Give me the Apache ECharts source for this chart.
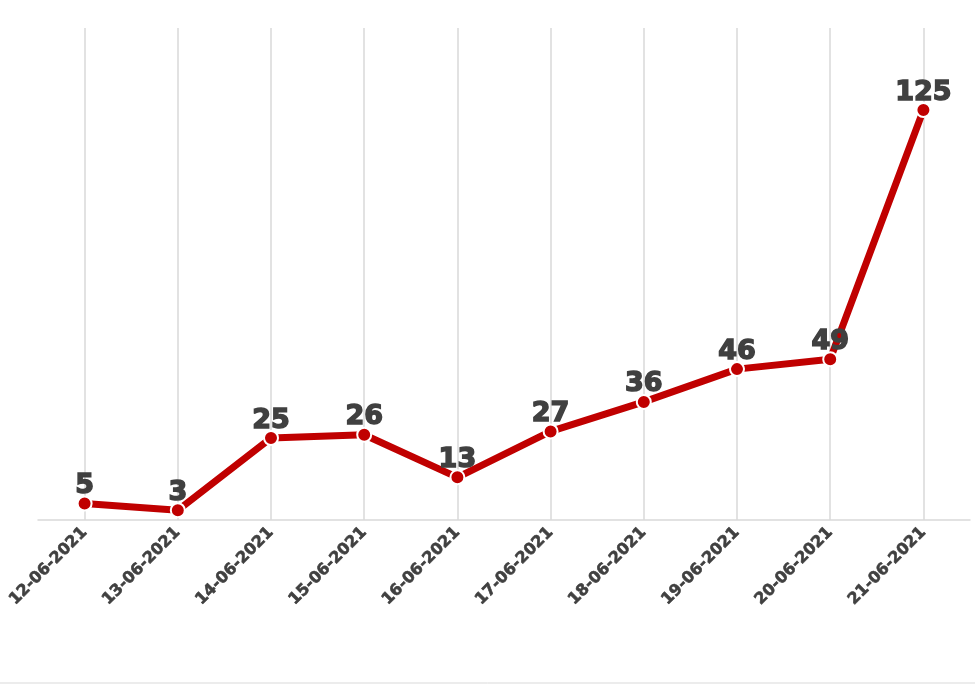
<!DOCTYPE html>
<html><head><meta charset="utf-8">
<script src="https://cdn.jsdelivr.net/npm/echarts@6/dist/echarts.min.js"></script>
<style>html,body{margin:0;background:#fff}#c{width:975px;height:687px}</style>
</head><body><div id="c"></div>
<script>
const dates = ['12-06-2021','13-06-2021','14-06-2021','15-06-2021','16-06-2021','17-06-2021','18-06-2021','19-06-2021','20-06-2021','21-06-2021'];
const cases = [5, 3, 25, 26, 13, 27, 36, 46, 49, 125];

const chart = echarts.init(document.getElementById('c'));
chart.setOption({
  animation: false,
  grid: { left: 38, right: 5, top: 28, bottom: 167 },
  xAxis: {
    type: 'category', data: dates, boundaryGap: true,
    axisLine: { lineStyle: { color: '#d9d9d9', width: 1.5 } },
    axisTick: { show: false },
    axisLabel: { rotate: 45, color: '#404040', fontWeight: 'bold', fontSize: 16, fontFamily: 'DejaVu Sans', margin: 10,
      textBorderColor: '#404040', textBorderWidth: 0.6 }
  },
  yAxis: { type: 'value', min: 0, max: 150, show: false, splitLine: { show: false } },
  series: [{
    type: 'line', data: cases,
    lineStyle: { color: '#c00000', width: 7 },
    itemStyle: { color: '#c00000', borderColor: '#fff', borderWidth: 2 },
    symbol: 'circle', symbolSize: 14,
    label: { show: true, position: 'top', distance: -4, color: '#404040', fontWeight: 'bold', fontSize: 27, fontFamily: 'DejaVu Sans',
      textBorderColor: '#404040', textBorderWidth: 1.5 },
    markLine: {
      silent: true, symbol: 'none', label: { show: false },
      lineStyle: { color: '#d9d9d9', type: 'solid', width: 1.5 },
      data: dates.map(d => ({ xAxis: d })),
      z: 0
    },
    z: 3
  }],
  graphic: [{ type: 'line', shape: { x1: 0, y1: 683, x2: 975, y2: 683 }, style: { stroke: '#d9d9d9', lineWidth: 1 } }]
});
</script></body></html>
